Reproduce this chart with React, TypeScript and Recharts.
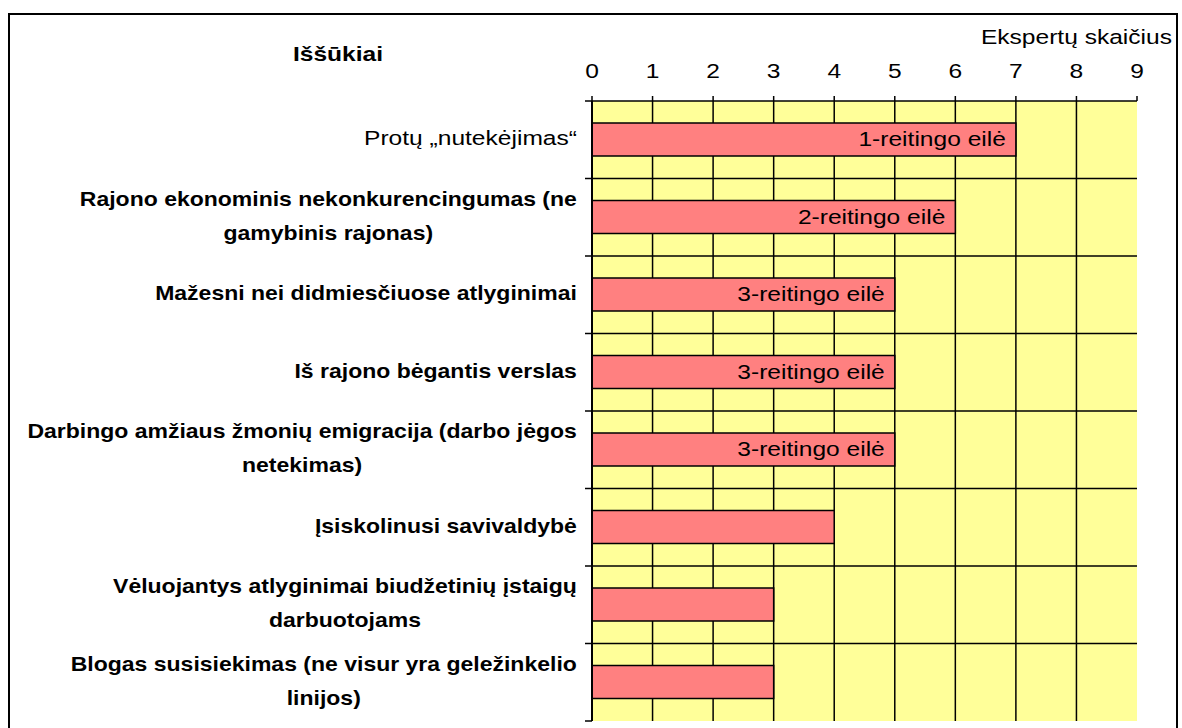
import React from "react";
import {
  BarChart,
  Bar,
  XAxis,
  YAxis,
  CartesianGrid,
  LabelList,
  Customized,
} from "recharts";

const categoryLines: string[][] = [
  ["Protų „nutekėjimas“"],
  ["Rajono ekonominis nekonkurencingumas (ne", "gamybinis rajonas)"],
  ["Mažesni nei didmiesčiuose atlyginimai"],
  ["Iš rajono bėgantis verslas"],
  ["Darbingo amžiaus žmonių emigracija (darbo jėgos", "netekimas)"],
  ["Įsiskolinusi savivaldybė"],
  ["Vėluojantys atlyginimai biudžetinių įstaigų", "darbuotojams"],
  ["Blogas susisiekimas (ne visur yra geležinkelio", "linijos)"],
];
const categoryBold: boolean[] = [false, true, true, true, true, true, true, true];
const expertCounts: number[] = [7, 6, 5, 5, 5, 4, 3, 3];
const rankLabels: string[] = [
  "1-reitingo eilė",
  "2-reitingo eilė",
  "3-reitingo eilė",
  "3-reitingo eilė",
  "3-reitingo eilė",
  "",
  "",
  "",
];
const xTicks: number[] = [0, 1, 2, 3, 4, 5, 6, 7, 8, 9];
const titleLeft = "Iššūkiai";
const titleRight = "Ekspertų skaičius";

const data = categoryLines.map((lines, i) => ({
  name: lines.join(" "),
  value: expertCounts[i],
  rank: rankLabels[i],
}));

const FONT = '"Liberation Sans", Arial, sans-serif';
const FS = 19.5;
const SX = 1.26;
const SX_BOLD = 1.18;
const LINE_GAP = 34;

let measureCtx: CanvasRenderingContext2D | null = null;
function measure(text: string, bold: boolean): number {
  if (!measureCtx) {
    const c = document.createElement("canvas");
    measureCtx = c.getContext("2d");
  }
  if (!measureCtx) return text.length * FS * 0.55;
  measureCtx.font = `${bold ? "bold " : ""}${FS}px ${FONT}`;
  return measureCtx.measureText(text).width;
}

const YTick = (props: any) => {
  const { x, y, payload, height, index } = props;
  const idx = payload?.index ?? index ?? 0;
  const lines = categoryLines[idx] || [String(payload?.value)];
  const bold = categoryBold[idx];
  const sx = bold ? SX_BOLD : SX;
  const n = categoryLines.length;
  const band = height ? height / n : 77.5;
  const axisX = x + 15;
  const maxW = Math.max(...lines.map((l) => measure(l, bold))) * sx;
  const cx = x - maxW / 2;
  const startY = y - ((lines.length - 1) * LINE_GAP) / 2 - 1;
  return (
    <g>
      {idx === 0 && (
        <line x1={axisX - 7} x2={axisX} y1={y - band / 2} y2={y - band / 2} stroke="#000" strokeWidth={1.5} />
      )}
      <line x1={axisX - 7} x2={axisX} y1={y + band / 2} y2={y + band / 2} stroke="#000" strokeWidth={1.5} />
      {lines.map((l, i) => (
        <text
          key={i}
          transform={`translate(${cx},${startY + i * LINE_GAP}) scale(${sx},1)`}
          textAnchor="middle"
          dominantBaseline="central"
          fontFamily={FONT}
          fontSize={FS}
          fontWeight={bold ? "bold" : "normal"}
          fill="#000"
        >
          {l}
        </text>
      ))}
    </g>
  );
};

const XTick = (props: any) => {
  const { x, y, payload } = props;
  return (
    <text
      transform={`translate(${x},${y - 16}) scale(${SX},1)`}
      textAnchor="middle"
      fontFamily={FONT}
      fontSize={FS}
      fill="#000"
    >
      {payload.value}
    </text>
  );
};

const RankLabel = (props: any) => {
  const { x, y, width, height, value } = props;
  if (!value) return null;
  return (
    <text
      transform={`translate(${x + width - 10},${y + height / 2}) scale(${SX},1)`}
      textAnchor="end"
      dominantBaseline="central"
      fontFamily={FONT}
      fontSize={FS}
      fill="#000"
    >
      {value}
    </text>
  );
};

const Titles = () => (
  <g>
    <text
      transform={`translate(338,61) scale(${SX},1)`}
      textAnchor="middle"
      fontFamily={FONT}
      fontSize={FS}
      fontWeight="bold"
      fill="#000"
    >
      {titleLeft}
    </text>
    <text
      transform={`translate(1172,44) scale(${SX},1)`}
      textAnchor="end"
      fontFamily={FONT}
      fontSize={FS}
      fill="#000"
    >
      {titleRight}
    </text>
  </g>
);

export default function App() {
  const n = categoryLines.length;
  return (
    <div style={{ position: "absolute", left: 0, top: 0, width: 1182, height: 728, overflow: "hidden", background: "#fff" }}>
      <div
        style={{
          position: "absolute",
          left: 8,
          top: 13,
          width: 1170,
          height: 800,
          border: "2px solid #000",
          boxSizing: "border-box",
        }}
      />
      <div style={{ position: "absolute", left: 0, top: 0 }}>
        <BarChart
          width={1182}
          height={728}
          data={data}
          layout="vertical"
          margin={{ top: 71, right: 45, bottom: 7, left: 0 }}
          barCategoryGap={0}
        >
          <CartesianGrid
            fill="#FFFF99"
            fillOpacity={1}
            stroke="#000"
            strokeWidth={1.5}
            horizontalCoordinatesGenerator={({ offset }: any) =>
              Array.from({ length: n - 1 }, (_, i) => offset.top + ((i + 1) * offset.height) / n)
            }
            verticalCoordinatesGenerator={({ offset }: any) =>
              Array.from({ length: xTicks.length - 2 }, (_, i) => offset.left + ((i + 1) * offset.width) / (xTicks.length - 1))
            }
          />
          <XAxis
            type="number"
            orientation="top"
            domain={[0, 9]}
            ticks={xTicks}
            interval={0}
            height={30}
            axisLine={{ stroke: "#000", strokeWidth: 1.5 }}
            tickLine={{ stroke: "#000", strokeWidth: 1.5 }}
            tickSize={5}
            tick={<XTick />}
          />
          <XAxis
            xAxisId="bottom"
            type="number"
            orientation="bottom"
            domain={[0, 9]}
            height={0}
            tick={false}
            tickLine={false}
            axisLine={{ stroke: "#808080", strokeWidth: 2 }}
          />
          <YAxis
            type="category"
            dataKey="name"
            width={592}
            interval={0}
            tickLine={false}
            tickSize={7}
            tickMargin={8}
            axisLine={{ stroke: "#000", strokeWidth: 2 }}
            tick={<YTick />}
          />
          <YAxis
            yAxisId="right"
            type="category"
            dataKey="name"
            orientation="right"
            width={0}
            tick={false}
            tickLine={false}
            axisLine={{ stroke: "#808080", strokeWidth: 2 }}
          />
          <Bar
            dataKey="value"
            fill="#FF8080"
            stroke="#000"
            strokeWidth={1.5}
            barSize={33}
            isAnimationActive={false}
          >
            <LabelList dataKey="rank" content={<RankLabel />} />
          </Bar>
          <Customized component={Titles} />
        </BarChart>
      </div>
    </div>
  );
}
